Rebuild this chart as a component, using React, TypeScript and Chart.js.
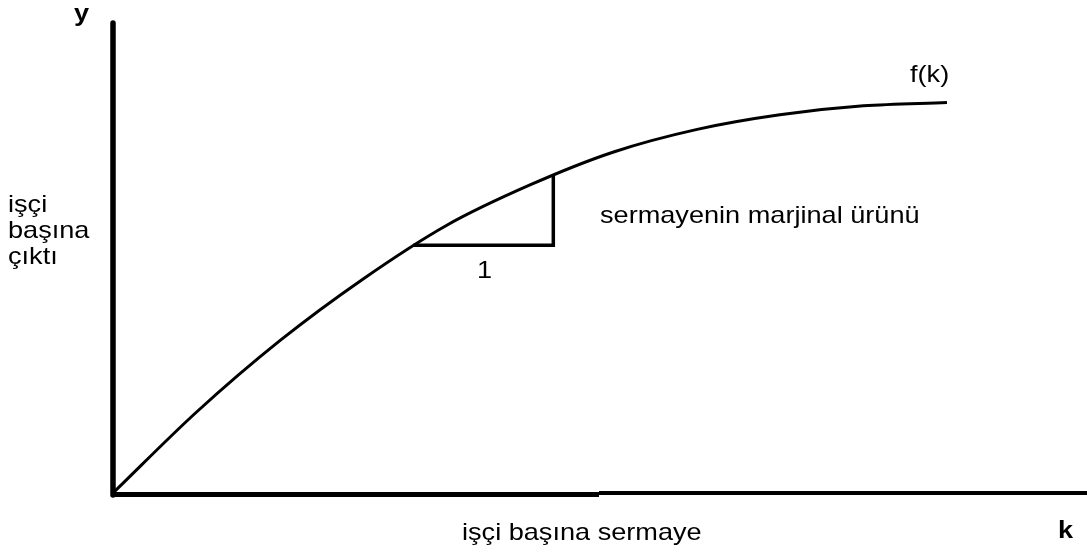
import React, { useEffect, useRef } from "react";
import { Chart, registerables } from "chart.js";

Chart.register(...registerables);

// Capital per worker (k) and output per worker f(k)
const kValues = [0, 0.86, 1.72, 2.57, 3.43, 4.29, 5.15, 6.01, 6.86, 7.72, 8.58];
const fValues = [0, 1.72, 3.24, 4.54, 5.68, 6.54, 7.24, 7.72, 8.03, 8.22, 8.29];

// Slope triangle: one unit step in k and the matching rise of f(k)
const triK = [3.09, 4.53, 4.53];
const triY = [5.26, 5.26, 6.77];

// Axis ranges
const xRange = [0, 10];
const yRange = [0, 10];
// Point where the drawn horizontal axis changes stroke weight
const xAxisJoin = 5;

const FONT = '"Liberation Sans", Arial, sans-serif';

function drawStretched(
  ctx: CanvasRenderingContext2D,
  text: string,
  x: number,
  baseline: number,
  font: string,
  sx: number
) {
  ctx.save();
  ctx.translate(x, baseline);
  ctx.scale(sx, 1);
  ctx.font = font;
  ctx.fillStyle = "#000";
  ctx.textAlign = "left";
  ctx.textBaseline = "alphabetic";
  ctx.fillText(text, 0, 0);
  ctx.restore();
}

const axesPlugin = {
  id: "handAxes",
  beforeDatasetsDraw(chart: any) {
    const { ctx, chartArea, scales } = chart;
    const xs = scales.x;
    const ys = scales.y;
    const left = xs.getPixelForValue(xRange[0]);
    const bottom = ys.getPixelForValue(yRange[0]);
    const join = xs.getPixelForValue(xAxisJoin);
    ctx.save();
    ctx.strokeStyle = "#000";
    // vertical axis
    ctx.lineCap = "round";
    ctx.lineWidth = 5.5;
    ctx.beginPath();
    ctx.moveTo(left, chartArea.top + 1);
    ctx.lineTo(left, bottom + 2);
    ctx.stroke();
    // horizontal axis, two strokes
    ctx.lineCap = "butt";
    ctx.lineWidth = 5;
    ctx.beginPath();
    ctx.moveTo(left, bottom + 1.5);
    ctx.lineTo(join, bottom + 1.5);
    ctx.stroke();
    ctx.lineWidth = 4;
    ctx.beginPath();
    ctx.moveTo(join, bottom);
    ctx.lineTo(chartArea.right + 2, bottom);
    ctx.stroke();
    ctx.restore();
  },
  afterDraw(chart: any) {
    const ctx = chart.ctx as CanvasRenderingContext2D;
    const sx = 1.13;
    const reg = `24px ${FONT}`;
    const bold = `bold 24px ${FONT}`;
    drawStretched(ctx, "y", 74, 21, bold, sx);
    drawStretched(ctx, "işçi", 8, 212, reg, sx);
    drawStretched(ctx, "başına", 8, 238, reg, sx);
    drawStretched(ctx, "çıktı", 8, 264, reg, sx);
    drawStretched(ctx, "sermayenin marjinal ürünü", 600, 223, reg, sx);
    drawStretched(ctx, "1", 477, 278, reg, sx);
    drawStretched(ctx, "f(k)", 910, 82, reg, sx);
    drawStretched(ctx, "işçi başına sermaye", 462, 540, reg, sx);
    drawStretched(ctx, "k", 1058, 538, bold, sx);
  },
};

export default function App() {
  const ref = useRef<HTMLCanvasElement | null>(null);

  useEffect(() => {
    document.body.style.margin = "0";
    const canvas = ref.current;
    if (!canvas) return;
    const chart = new Chart(canvas, {
      type: "scatter",
      data: {
        datasets: [
          {
            label: "f(k)",
            data: kValues.map((k, i) => ({ x: k, y: fValues[i] })),
            showLine: true,
            borderColor: "#000",
            borderWidth: 3,
            pointRadius: 0,
            cubicInterpolationMode: "monotone",
            fill: false,
          },
          {
            label: "slope",
            data: triK.map((k, i) => ({ x: k, y: triY[i] })),
            showLine: true,
            borderColor: "#000",
            borderWidth: 3.5,
            pointRadius: 0,
            tension: 0,
            fill: false,
          },
        ],
      },
      options: {
        responsive: false,
        animation: false,
        layout: { padding: { left: 113, right: 2, top: 22, bottom: 59 } },
        plugins: {
          legend: { display: false },
          tooltip: { enabled: false },
        },
        scales: {
          x: { type: "linear", min: xRange[0], max: xRange[1], display: false },
          y: { type: "linear", min: yRange[0], max: yRange[1], display: false },
        },
      },
      plugins: [axesPlugin],
    });
    return () => chart.destroy();
  }, []);

  return (
    <div style={{ position: "fixed", left: 0, top: 0, width: 1087, height: 552, background: "#fff" }}>
      <canvas ref={ref} width={1087} height={552} style={{ display: "block" }} />
    </div>
  );
}
